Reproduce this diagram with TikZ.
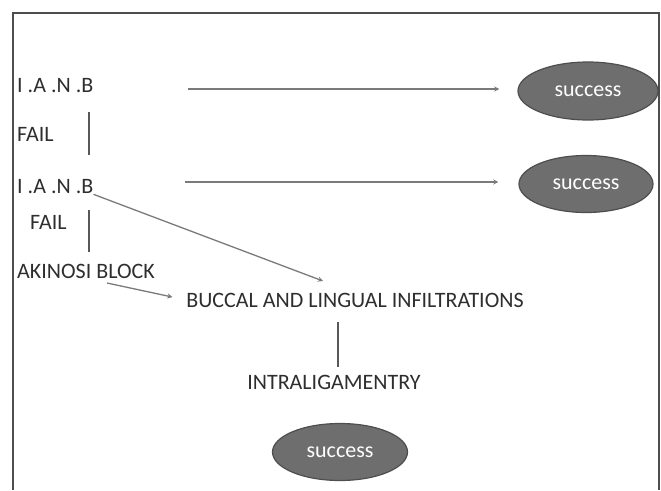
\documentclass[tikz,border=0pt]{standalone}
\usepackage{fontspec}
\setmainfont{Carlito}
\usetikzlibrary{shapes.geometric}
\definecolor{txtgray}{HTML}{2E2E2E}
\definecolor{linegray}{HTML}{7A7A7A}
\definecolor{ovalfill}{HTML}{6E6E6E}
\definecolor{ovaledge}{HTML}{4E4E4E}
\begin{document}
\begin{tikzpicture}[x=1pt, y=-1pt, >=stealth,
    lbl/.style={anchor=west, inner sep=0pt, text=txtgray, font=\fontsize{22}{22}\selectfont},
    mid/.style={lbl, anchor=center},
    oval/.style={ellipse, fill=ovalfill, draw=ovaledge, line width=1.2pt, inner sep=0pt,
        text=white, font=\fontsize{22}{22}\selectfont},
    arr/.style={->, draw=linegray, line width=1.3pt},
    bar/.style={draw=txtgray!80, line width=2.8pt}]
    \useasboundingbox (0,0) rectangle (661,490);

    % Frame
    \draw[line width=2pt, draw=txtgray!85] (13,490) |- (659,13) -- (659,490);

    % Left column
    \node[lbl] (ianbA) at (17,86) {I .A .N .B};
    \node[lbl] (failA) at (17,134) {FAIL};
    \node[lbl] (ianbB) at (17,187) {I .A .N .B};
    \node[lbl] (failB) at (30,222) {FAIL};
    \node[lbl] (akinosi) at (17,271) {AKINOSI BLOCK};

    % Middle column
    \node[mid] (buccal) at (355,300) {BUCCAL AND LINGUAL INFILTRATIONS};
    \node[mid] (intra) at (334,382) {INTRALIGAMENTRY};

    % Outcomes
    \node[oval, minimum width=140pt, minimum height=58pt] (succA) at (588,91) {success};
    \node[oval, minimum width=134pt, minimum height=57pt] (succB) at (586,184) {success};
    \node[oval, minimum width=135pt, minimum height=57pt] (succC) at (340,452) {success};

    % Free ends
    \coordinate (startA) at (188,89);
    \coordinate (startB) at (185,182);
    \coordinate (diagIn) at (323,281);
    \coordinate (akiOut) at (107,283);
    \coordinate (barAtop) at (89,112);
    \coordinate (barAbot) at (89,155);
    \coordinate (barBtop) at (89,210);
    \coordinate (barBbot) at (89,252);
    \coordinate (barCtop) at (338,322);
    \coordinate (barCbot) at (338,367);

    % Arrows to success
    \draw[arr, shorten >=18pt] (startA) -- (startA -| succA.west);
    \draw[arr, shorten >=20pt] (startB) -- (startB -| succB.west);

    % Arrows to infiltrations
    \draw[arr] (ianbB.south east) -- (diagIn);
    \draw[arr, shorten >=14pt] (akiOut) -- (buccal.west);

    % Vertical bars
    \draw[bar] (barAtop) -- (barAbot);
    \draw[bar] (barBtop) -- (barBbot);
    \draw[bar] (barCtop) -- (barCbot);
\end{tikzpicture}
\end{document}
